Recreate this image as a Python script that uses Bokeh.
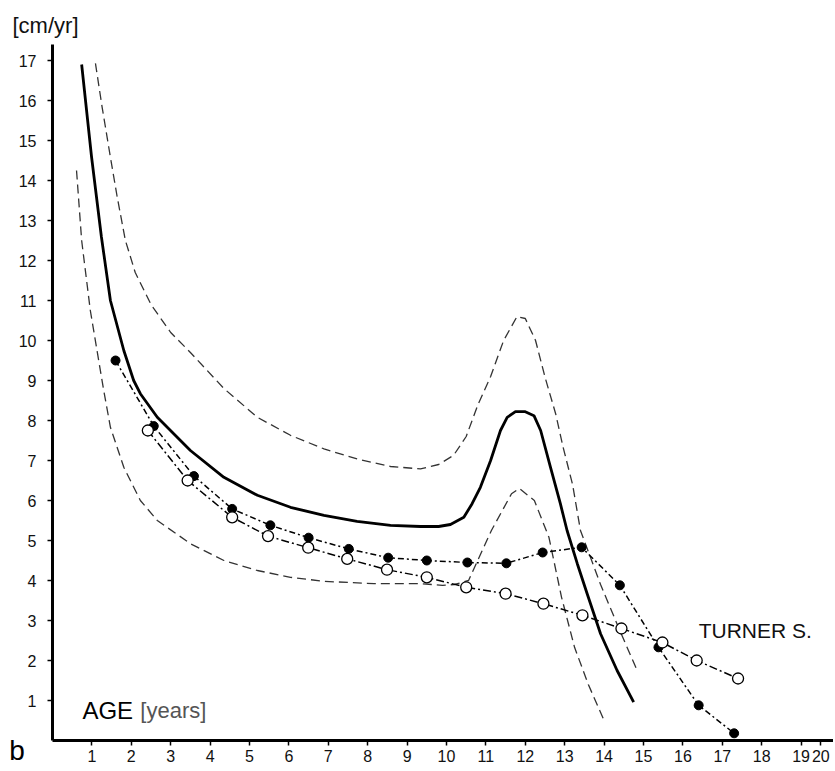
from bokeh.plotting import figure
from bokeh.models import Label, FixedTicker
from bokeh.embed import file_html
from bokeh.resources import INLINE

# Mean growth velocity (solid)
mean_age = [0.74, 0.99, 1.24, 1.47, 1.81, 2.06, 2.23, 2.66, 3.5, 4.35, 5.2, 6.04, 6.89, 7.73,
            8.58, 9.34, 9.8, 10.10, 10.44, 10.65, 10.86, 11.12, 11.37, 11.54, 11.75, 12.0,
            12.22, 12.39, 12.64, 12.89, 13.06, 13.32, 13.57, 13.91, 14.33, 14.75]
mean_vel = [16.9, 14.6, 12.6, 11.0, 9.75, 9.0, 8.67, 8.08, 7.25, 6.58, 6.13, 5.83, 5.63, 5.48,
            5.38, 5.35, 5.35, 5.40, 5.58, 5.92, 6.33, 7.0, 7.75, 8.08, 8.22, 8.22,
            8.12, 7.75, 6.83, 5.92, 5.25, 4.42, 3.67, 2.67, 1.75, 0.96]

# Upper percentile (dashed)
up_age = [1.09, 1.26, 1.47, 1.64, 1.85, 2.1, 2.5, 3.0, 3.5, 4.35, 5.2, 6.04, 6.89, 7.73,
          8.58, 9.34, 9.8, 10.18, 10.5, 10.8, 11.12, 11.45, 11.79, 12.0, 12.26, 12.51,
          12.77, 12.96, 13.2, 13.4, 13.91, 14.42, 14.84]
up_vel = [16.93, 15.83, 14.58, 13.6, 12.5, 11.7, 10.9, 10.2, 9.7, 8.8, 8.08, 7.63, 7.29, 7.04,
          6.85, 6.79, 6.9, 7.13, 7.6, 8.4, 9.1, 10.0, 10.6, 10.55, 10.0, 9.05,
          8.17, 7.33, 6.4, 5.25, 3.9, 2.7, 1.75]

# Lower percentile (dashed)
low_age = [0.61, 0.74, 0.96, 1.13, 1.3, 1.47, 1.81, 2.23, 2.66, 3.5, 4.35, 5.2, 6.04, 6.89,
           8.16, 9.34, 9.9, 10.2, 10.56, 11.14, 11.65, 11.85, 12.23, 12.6, 12.92, 13.25,
           13.6, 14.0]
low_vel = [14.25, 12.5, 10.75, 9.75, 8.75, 7.83, 6.83, 6.0, 5.5, 4.92, 4.5, 4.25, 4.08, 3.98,
           3.92, 3.92, 3.88, 3.9, 4.0, 5.25, 6.17, 6.3, 6.0, 5.08, 3.58, 2.33,
           1.4, 0.5]

# Filled circles series
f_age = [1.6, 2.57, 3.59, 4.56, 5.53, 6.5, 7.52, 8.52, 9.5, 10.53, 11.52, 12.44, 13.43,
         14.4, 15.38, 16.4, 17.3]
f_vel = [9.5, 7.86, 6.61, 5.79, 5.38, 5.07, 4.79, 4.57, 4.5, 4.45, 4.43, 4.7, 4.83,
         3.88, 2.33, 0.88, 0.18]

# Open circles series (Turner syndrome)
o_age = [2.42, 3.43, 4.56, 5.47, 6.49, 7.48, 8.49, 9.5, 10.5, 11.5, 12.46, 13.45, 14.44,
         15.48, 16.35, 17.4]
o_vel = [7.75, 6.5, 5.58, 5.11, 4.82, 4.54, 4.27, 4.08, 3.83, 3.67, 3.42, 3.13, 2.8,
         2.45, 2.0, 1.55]

y_ticks = list(range(1, 18))
x_ticks = list(range(1, 20)) + [19.5]
x_tick_labels = {19.5: "20"}

FONT = "Liberation Sans"

W, H = 833, 769
PX_X, PX_Y = 39.4, 40.0          # pixels per year / per cm
X0, Y0 = 52, 740                 # canvas position of the origin
x_start = -X0 / PX_X
x_end = x_start + W / PX_X
y_end = Y0 / PX_Y
y_start = y_end - H / PX_Y

p = figure(width=W, height=H, x_range=(x_start, x_end), y_range=(y_start, y_end),
           output_backend="svg", toolbar_location=None, min_border=0)
p.outline_line_color = None
p.xgrid.grid_line_color = None
p.ygrid.grid_line_color = None
p.background_fill_color = "white"

for ax in (p.xaxis[0], p.yaxis[0]):
    ax.fixed_location = 0
    ax.axis_line_width = 3
    ax.axis_line_color = "black"
    ax.major_tick_line_color = "black"
    ax.major_tick_line_width = 1.5
    ax.major_tick_in = 0
    ax.major_tick_out = 5
    ax.minor_tick_line_color = None
    ax.major_label_text_font = FONT
    ax.major_label_text_font_size = "16px"
    ax.major_label_text_color = "#111111"

p.yaxis.ticker = FixedTicker(ticks=y_ticks)
p.yaxis.bounds = (0, 17.4)
p.yaxis.major_label_standoff = 11
p.xaxis.ticker = FixedTicker(ticks=x_ticks)
p.xaxis.bounds = (0, 19.9)
p.xaxis.major_label_overrides = x_tick_labels
p.xaxis.major_label_standoff = 4

# Percentile curves
p.line(up_age, up_vel, line_color="#333333", line_width=1.3, line_dash="9 5")
p.line(low_age, low_vel, line_color="#333333", line_width=1.3, line_dash="9 5")
# Mean
p.line(mean_age, mean_vel, line_color="black", line_width=2.8)

# Series
p.line(f_age, f_vel, line_color="black", line_width=1.5, line_dash="6 3 2 3")
p.scatter(f_age, f_vel, size=9, marker="circle", fill_color="black", line_color="black")
p.line(o_age, o_vel, line_color="black", line_width=1.5, line_dash="8 3 2 3")
p.scatter(o_age, o_vel, size=11, marker="circle", fill_color="white", line_color="black",
          line_width=1.3)

p.add_layout(Label(x=-1.015, y=17.875, text="[cm/yr]", text_font=FONT, text_font_size="22px",
                   text_color="#111111", text_baseline="middle"))
p.add_layout(Label(x=0.76, y=0.74, text="AGE", text_font=FONT, text_font_size="24px",
                   text_color="black", text_baseline="middle"))
p.add_layout(Label(x=2.23, y=0.74, text="[years]", text_font=FONT, text_font_size="22px",
                   text_color="#555555", text_baseline="middle"))
p.add_layout(Label(x=-1.1, y=-0.25, text="b", text_font=FONT, text_font_size="28px",
                   text_color="black", text_baseline="middle"))
p.add_layout(Label(x=16.4, y=2.74, text="TURNER S.", text_font=FONT, text_font_size="21px",
                   text_color="#111111", text_baseline="middle"))

open("out.html", "w").write(file_html(p, INLINE))
